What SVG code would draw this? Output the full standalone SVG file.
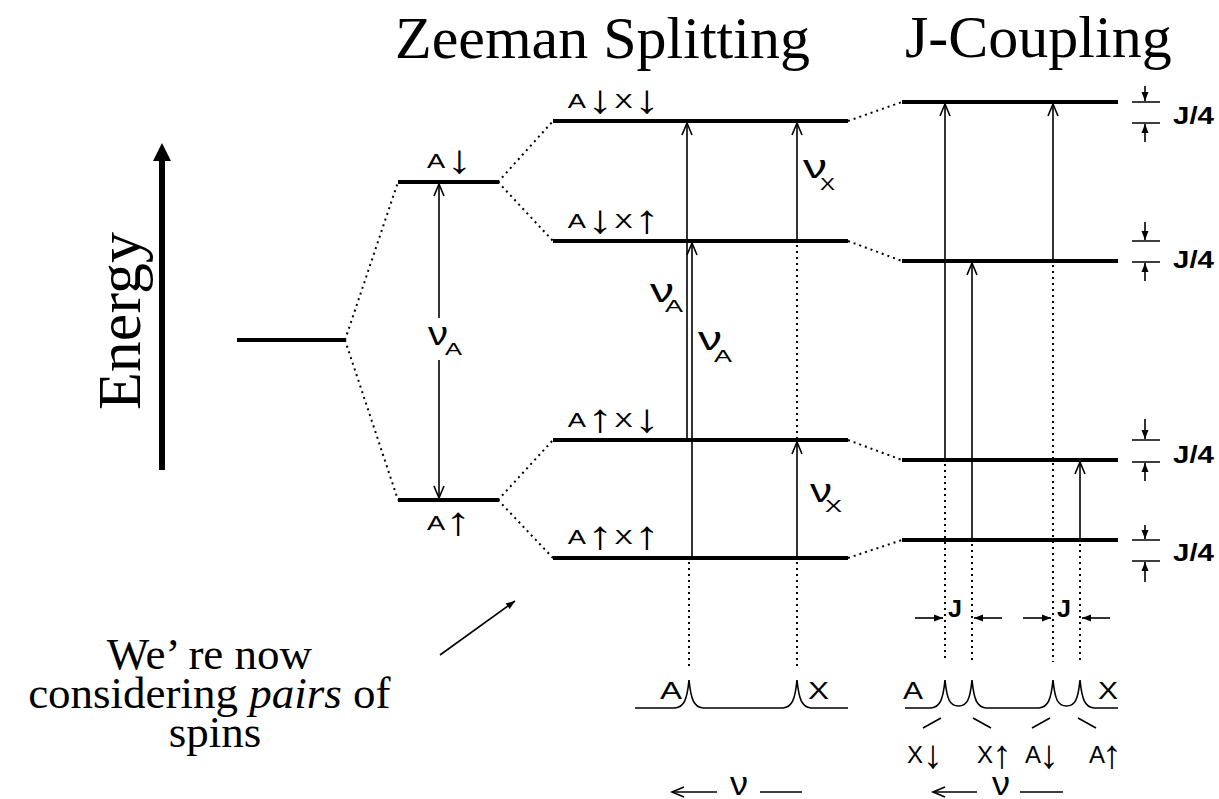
<svg xmlns="http://www.w3.org/2000/svg" width="1219" height="799" viewBox="0 0 1219 799">
<defs>
<style>
.lvl{stroke:#000;stroke-width:4;fill:none}
.dot{stroke:#000;stroke-width:2;stroke-dasharray:2 4;fill:none}
.tr{stroke:#000;stroke-width:1.6;fill:none}
.oa{marker-end:url(#open)}
.sa{marker-end:url(#solid)}
.sans{font-family:"Liberation Sans",Arial,sans-serif;fill:#000}
.serif{font-family:"Liberation Serif","Times New Roman",serif;fill:#000}
.st{font-size:21px;text-anchor:middle}
.arr{font-size:40px}
.nu{font-size:33px}
.sub{font-size:17px}
.sp{font-size:24px}
.j4{font-size:24px;font-weight:bold}
</style>
<marker id="open" markerUnits="userSpaceOnUse" viewBox="-14 -8 16 16" markerWidth="16" markerHeight="16" refX="0" refY="0" orient="auto" overflow="visible"><path d="M-12,-5 L0,0 L-12,5" fill="none" stroke="#000" stroke-width="1.6"/></marker>
<marker id="solid" markerUnits="userSpaceOnUse" viewBox="-10 -5 12 10" markerWidth="12" markerHeight="10" refX="0" refY="0" orient="auto" overflow="visible"><path d="M-9,-3.5 L0,0 L-9,3.5 Z" fill="#000"/></marker>
</defs>
<rect width="1219" height="799" fill="#fff"/>

<g id="titles">
<text class="serif" x="395" y="58" font-size="60">Zeeman Splitting</text>
<text class="serif" x="905" y="57" font-size="60">J-Coupling</text>
</g>

<g id="energy-axis">
<line x1="162" y1="470" x2="162" y2="158" stroke="#000" stroke-width="6"/>
<polygon points="153,161 171,161 162,143" fill="#000"/>
<text class="serif" font-size="62" transform="translate(140,410) rotate(-90)">Energy</text>
</g>

<g id="level-initial"><line class="lvl" x1="237" y1="340" x2="345" y2="340"/></g>
<g id="level-A-down"><line class="lvl" x1="398" y1="182" x2="498" y2="182"/>
<text class="sans st" transform="translate(427,168) scale(1.3,1)"><tspan x="7" y="0">A</tspan><tspan class="arr" x="25" y="5">↓</tspan></text></g>
<g id="level-A-up"><line class="lvl" x1="398" y1="500" x2="498" y2="500"/>
<text class="sans st" transform="translate(427,530) scale(1.3,1)"><tspan x="7" y="0">A</tspan><tspan class="arr" x="24" y="5">↑</tspan></text></g>

<g id="level-AdXd"><line class="lvl" x1="553" y1="121" x2="848" y2="121"/>
<text class="sans st" transform="translate(567,108) scale(1.3,1)"><tspan x="7.5" y="0">A</tspan><tspan class="arr" x="25.5" y="5">↓</tspan><tspan x="43.5" y="0">X</tspan><tspan class="arr" x="61.5" y="5">↓</tspan></text></g>
<g id="level-AdXu"><line class="lvl" x1="553" y1="241" x2="848" y2="241"/>
<text class="sans st" transform="translate(567,228) scale(1.3,1)"><tspan x="7.5" y="0">A</tspan><tspan class="arr" x="25.5" y="5">↓</tspan><tspan x="43.5" y="0">X</tspan><tspan class="arr" x="61.5" y="5">↑</tspan></text></g>
<g id="level-AuXd"><line class="lvl" x1="553" y1="440" x2="848" y2="440"/>
<text class="sans st" transform="translate(567,427) scale(1.3,1)"><tspan x="7.5" y="0">A</tspan><tspan class="arr" x="25.5" y="5">↑</tspan><tspan x="43.5" y="0">X</tspan><tspan class="arr" x="61.5" y="5">↓</tspan></text></g>
<g id="level-AuXu"><line class="lvl" x1="553" y1="558" x2="848" y2="558"/>
<text class="sans st" transform="translate(567,544) scale(1.3,1)"><tspan x="7.5" y="0">A</tspan><tspan class="arr" x="25.5" y="5">↑</tspan><tspan x="43.5" y="0">X</tspan><tspan class="arr" x="61.5" y="5">↑</tspan></text></g>

<g id="jlevel-1"><line class="lvl" x1="902" y1="102" x2="1118" y2="102"/></g>
<g id="jlevel-2"><line class="lvl" x1="902" y1="261" x2="1118" y2="261"/></g>
<g id="jlevel-3"><line class="lvl" x1="902" y1="460" x2="1118" y2="460"/></g>
<g id="jlevel-4"><line class="lvl" x1="902" y1="540" x2="1118" y2="540"/></g>

<g id="connectors">
<path class="dot" d="M345,340 L398,182 M345,340 L398,500 M498,182 L553,121 M498,182 L553,241 M498,500 L553,440 M498,500 L553,558 M848,121 L902,102 M848,241 L902,261 M848,440 L902,460 M848,558 L902,540"/>
<line class="tr oa" x1="439" y1="318" x2="439" y2="184"/>
<line class="tr oa" x1="439" y1="360" x2="439" y2="498"/>
<line class="tr oa" x1="687" y1="440" x2="687" y2="123"/>
<line class="tr oa" x1="692" y1="558" x2="692" y2="243"/>
<line class="tr oa" x1="797" y1="241" x2="797" y2="123"/>
<line class="tr oa" x1="797" y1="558" x2="797" y2="442"/>
<line class="tr oa" x1="945" y1="460" x2="945" y2="104"/>
<line class="tr oa" x1="972" y1="540" x2="972" y2="263"/>
<line class="tr oa" x1="1053" y1="261" x2="1053" y2="104"/>
<line class="tr oa" x1="1080" y1="540" x2="1080" y2="462"/>
<path class="dot" d="M797,245 L797,438 M689,562 L689,668 M797,562 L797,668 M945,464 L945,662 M972,544 L972,662 M1053,265 L1053,662 M1080,544 L1080,662"/>
<line class="tr sa" x1="440" y1="655" x2="515" y2="601" stroke-width="2"/>
</g>

<g id="nu-labels">
<text class="sans nu" x="428" y="345" textLength="20" lengthAdjust="spacingAndGlyphs">ν</text><text class="sans sub" x="445" y="355" textLength="17" lengthAdjust="spacingAndGlyphs">A</text>
<text class="sans nu" x="650" y="302" textLength="24" lengthAdjust="spacingAndGlyphs">ν</text><text class="sans sub" x="665" y="312" textLength="18" lengthAdjust="spacingAndGlyphs">A</text>
<text class="sans nu" x="698" y="350" textLength="24" lengthAdjust="spacingAndGlyphs">ν</text><text class="sans sub" x="714" y="362" textLength="18" lengthAdjust="spacingAndGlyphs">A</text>
<text class="sans nu" x="803" y="178" textLength="24" lengthAdjust="spacingAndGlyphs">ν</text><text class="sans sub" x="820" y="190" textLength="15" lengthAdjust="spacingAndGlyphs">X</text>
<text class="sans nu" x="810" y="502" textLength="22" lengthAdjust="spacingAndGlyphs">ν</text><text class="sans sub" x="825" y="512" textLength="17" lengthAdjust="spacingAndGlyphs">X</text>
</g>

<g id="j4-markers">
<path class="tr" d="M1132,102 H1160 M1132,123 H1160 M1132,241 H1160 M1132,262 H1160 M1132,440 H1160 M1132,462 H1160 M1132,540 H1160 M1132,561 H1160"/>
<line class="tr sa" x1="1145" y1="86" x2="1145" y2="101"/>
<line class="tr sa" x1="1145" y1="142" x2="1145" y2="124"/>
<line class="tr sa" x1="1145" y1="222" x2="1145" y2="240"/>
<line class="tr sa" x1="1145" y1="281" x2="1145" y2="263"/>
<line class="tr sa" x1="1145" y1="419" x2="1145" y2="439"/>
<line class="tr sa" x1="1145" y1="481" x2="1145" y2="463"/>
<line class="tr sa" x1="1145" y1="525" x2="1145" y2="539"/>
<line class="tr sa" x1="1145" y1="582" x2="1145" y2="562"/>
<text class="sans j4" x="1173" y="124" textLength="41" lengthAdjust="spacingAndGlyphs">J/4</text>
<text class="sans j4" x="1173" y="268" textLength="41" lengthAdjust="spacingAndGlyphs">J/4</text>
<text class="sans j4" x="1173" y="463" textLength="41" lengthAdjust="spacingAndGlyphs">J/4</text>
<text class="sans j4" x="1173" y="561" textLength="41" lengthAdjust="spacingAndGlyphs">J/4</text>
</g>

<g id="spectrum-zeeman">
<path class="tr" d="M635,708 L675,708 C684,707 687,700 689,680 C691,700 694,707 703,708 L783,708 C792,707 795,700 797,680 C799,700 802,707 811,708 L848,708"/>
<text class="sans sp" x="660" y="699" textLength="22" lengthAdjust="spacingAndGlyphs">A</text>
<text class="sans sp" x="808" y="699" textLength="21" lengthAdjust="spacingAndGlyphs">X</text>
<line class="tr oa" x1="717" y1="792" x2="672" y2="792"/>
<text class="sans nu" x="730" y="795" textLength="18" lengthAdjust="spacingAndGlyphs">ν</text>
<line class="tr" x1="760" y1="792" x2="802" y2="792"/>
</g>

<g id="spectrum-j">
<path class="tr" d="M905,708 L931,708 C940,707 943,700 945,680 C947,700 950,706 958.5,706 C967,706 970,700 972,680 C974,700 977,707 986,708 L1039,708 C1048,707 1051,700 1053,680 C1055,700 1058,706 1066.5,706 C1075,706 1078,700 1080,680 C1082,700 1085,707 1094,708 L1118,708"/>
<text class="sans sp" x="903" y="699" textLength="20" lengthAdjust="spacingAndGlyphs">A</text>
<text class="sans sp" x="1098" y="699" textLength="20" lengthAdjust="spacingAndGlyphs">X</text>
<line class="tr sa" x1="915" y1="618" x2="943" y2="618"/>
<line class="tr sa" x1="1002" y1="618" x2="974" y2="618"/>
<line class="tr sa" x1="1023" y1="618" x2="1051" y2="618"/>
<line class="tr sa" x1="1110" y1="618" x2="1082" y2="618"/>
<text class="sans j4" x="948" y="617" textLength="14" lengthAdjust="spacingAndGlyphs">J</text>
<text class="sans j4" x="1057" y="617" textLength="14" lengthAdjust="spacingAndGlyphs">J</text>
<path class="tr" d="M923,728 L941,718 M973,718 L991,728 M1032,728 L1050,718 M1078,718 L1096,728"/>
<text class="sans sp" text-anchor="middle"><tspan x="915" y="763">X</tspan><tspan class="arr" x="933" y="768">↓</tspan></text>
<text class="sans sp" text-anchor="middle"><tspan x="985" y="763">X</tspan><tspan class="arr" x="1002" y="768">↑</tspan></text>
<text class="sans sp" text-anchor="middle"><tspan x="1033" y="763">A</tspan><tspan class="arr" x="1049" y="768">↓</tspan></text>
<text class="sans sp" text-anchor="middle"><tspan x="1097" y="763">A</tspan><tspan class="arr" x="1112" y="768">↑</tspan></text>
<line class="tr oa" x1="977" y1="792" x2="933" y2="792"/>
<text class="sans nu" x="992" y="795" textLength="18" lengthAdjust="spacingAndGlyphs">ν</text>
<line class="tr" x1="1020" y1="792" x2="1063" y2="792"/>
</g>

<g id="note">
<text class="serif" font-size="45" text-anchor="middle">
<tspan x="215" y="669">We’ re now</tspan>
<tspan x="215" y="708">considering <tspan font-style="italic">pairs</tspan> of</tspan>
<tspan x="215" y="747">spins</tspan>
</text>
</g>
</svg>
